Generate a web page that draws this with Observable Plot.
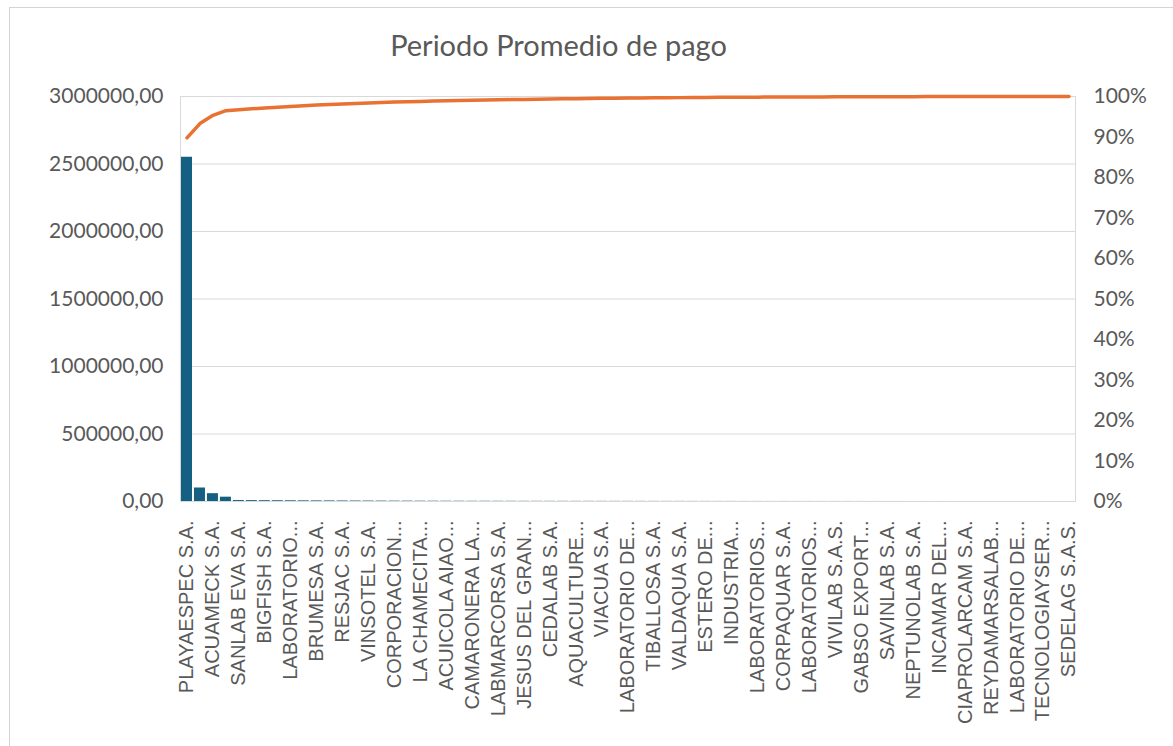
<!DOCTYPE html>
<html>
<head>
<meta charset="utf-8">
<script src="https://cdn.jsdelivr.net/npm/d3@7"></script>
<script src="https://cdn.jsdelivr.net/npm/@observablehq/plot@0.6"></script>
<style>
  html, body { margin: 0; padding: 0; background: #fff; }
  #wrap { position: relative; width: 1173px; height: 746px; overflow: hidden; background: #fff; }
  #frameTop { position: absolute; left: 9px; top: 7px; width: 1164px; height: 1px; background: #d4d4d4; }
  #frameLeft { position: absolute; left: 9px; top: 7px; width: 1px; height: 739px; background: #d4d4d4; }
  #title { position: absolute; top: 27px; left: 0; width: 1117px; text-align: center;
           font-family: Lato, "Open Sans", sans-serif; font-size: 29px; color: #595959; }
  #chart { position: absolute; left: 0; top: 70px; }
</style>
</head>
<body>
<div id="wrap">
  <div id="frameTop"></div>
  <div id="frameLeft"></div>
  <div id="title">Periodo Promedio de pago</div>
  <div id="chart"></div>
</div>
<script>
// Visible tick labels (every other category is labelled in the original)
const labels = [
  "PLAYAESPEC S.A.", "ACUAMECK S.A.", "SANLAB EVA S.A.", "BIGFISH S.A.", "LABORATORIO...",
  "BRUMESA S.A.", "RESJAC S.A.", "VINSOTEL S.A.", "CORPORACION...", "LA CHAMECITA...",
  "ACUICOLA AIAO...", "CAMARONERA LA...", "LABMARCORSA S.A.", "JESUS DEL GRAN...", "CEDALAB S.A.",
  "AQUACULTURE...", "VIACUA S.A.", "LABORATORIO DE...", "TIBALLOSA S.A.", "VALDAQUA S.A.",
  "ESTERO DE...", "INDUSTRIA...", "LABORATORIOS...", "CORPAQUAR S.A.", "LABORATORIOS...",
  "VIVILAB S.A.S.", "GABSO EXPORT...", "SAVINLAB S.A.", "NEPTUNOLAB S.A.", "INCAMAR DEL...",
  "CIAPROLARCAM S.A.", "REYDAMARSALAB...", "LABORATORIO DE...", "TECNOLOGIAYSER...", "SEDELAG S.A.S."
];

// Bar values (sorted descending), one per category, 69 categories
const values = [
  2550000, 100000, 58000, 32000,
  7000, 6500, 6000, 5600, 5200, 4800, 4500, 4200, 3900, 3600, 3300,
  3000, 2800, 2600, 2400, 2200, 2000, 1900, 1800, 1700, 1600,
  1500, 1400, 1300, 1250, 1200, 1150, 1100, 1050, 1000, 950,
  900, 850, 800, 750, 700, 650, 600, 550, 500, 450,
  400, 380, 360, 340, 320, 300, 280, 260, 240, 220,
  200, 180, 160, 140, 120, 100, 90, 80, 70, 60, 50, 40, 30, 20
];

const leftTicks = [0, 500000, 1000000, 1500000, 2000000, 2500000, 3000000];
const pctTicks = [0, 10, 20, 30, 40, 50, 60, 70, 80, 90, 100];

const yMax = 3000000;
const total = d3.sum(values);
const cum = d3.cumsum(values);
const data = values.map((v, i) => ({i, v, pct: cum[i] / total * 100}));
const idx = d3.range(values.length);

const fmtNum = v => d3.format(".2f")(v).replace(".", ",");
const numFont = "Lato, 'Open Sans', sans-serif";
const catFont = "'Liberation Sans', Arial, sans-serif";

const plot = Plot.plot({
  width: 1173,
  height: 676,
  marginTop: 26,
  marginLeft: 180,
  marginRight: 98,
  marginBottom: 245,
  style: {fontFamily: numFont, color: "#595959", background: "transparent"},
  x: {type: "band", domain: idx, paddingInner: 0.15, paddingOuter: 0.075},
  y: {domain: [0, yMax]},
  marks: [
    Plot.gridY(leftTicks, {stroke: "#d9d9d9", strokeOpacity: 1, strokeWidth: 1}),
    Plot.frame({stroke: "#d9d9d9"}),
    Plot.barY(data, {x: "i", y: "v", fill: "#156082"}),
    Plot.line(data, {x: "i", y: d => d.pct / 100 * yMax, stroke: "#e97132", strokeWidth: 3.5,
                     curve: "linear", strokeLinecap: "round", strokeLinejoin: "round"}),
    Plot.axisY(leftTicks, {anchor: "left", tickSize: 0, tickPadding: 17, tickFormat: fmtNum,
                           fontSize: 21, fill: "#595959", label: null}),
    Plot.axisY(pctTicks.map(p => p / 100 * yMax), {anchor: "right", tickSize: 0, tickPadding: 18,
                           tickFormat: v => Math.round(v / yMax * 100) + "%",
                           fontSize: 21, fill: "#595959", label: null}),
    Plot.axisX(idx.filter(i => i % 2 === 0), {anchor: "bottom", tickSize: 0, tickPadding: 19,
                           tickRotate: -90, tickFormat: i => labels[i / 2],
                           fontSize: 20, fontFamily: catFont, fill: "#595959", label: null})
  ]
});
document.getElementById("chart").appendChild(plot);
</script>
</body>
</html>
